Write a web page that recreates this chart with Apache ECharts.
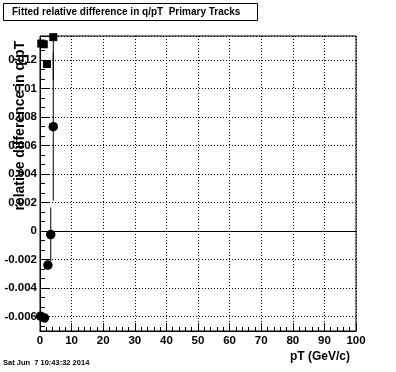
<!DOCTYPE html>
<html><head><meta charset="utf-8">
<script src="https://cdn.jsdelivr.net/npm/echarts@6/dist/echarts.min.js"></script>
<style>html,body{margin:0;padding:0;background:#fff}#c{width:396px;height:372px}</style>
</head><body><div id="c"></div>
<script>
// Data
const squareX = [0.4, 1.2, 2.2, 4.2];
const squareY = [0.01315, 0.0131, 0.01172, 0.0136];
const squareErr = [0, 0, 0, 0.003];
const circleX = [0.2, 1.4, 2.5, 3.4, 4.2];
const circleY = [-0.00598, -0.0061, -0.00239, -0.00025, 0.00732];
const circleErr = [0, 0, 0, 0.0019, 0.0052];
const xTicks = [0, 10, 20, 30, 40, 50, 60, 70, 80, 90, 100];
const titleText = 'Fitted relative difference in q/pT  Primary Tracks';
const yTitle = 'relative difference in q/pT';
const xTitle = 'pT (GeV/c)';
const dateText = 'Sat Jun  7 10:43:32 2014';

const F = '"Liberation Sans", Helvetica, Arial, sans-serif';
const sq = squareX.map((x, i) => [x, squareY[i], squareErr[i]]);
const ci = circleX.map((x, i) => [x, circleY[i], circleErr[i]]);
const errAll = sq.concat(ci).filter(d => d[2] > 0);

function errItem(params, api) {
  const x = api.value(0), y = api.value(1), e = api.value(2);
  const p1 = api.coord([x, y - e]), p2 = api.coord([x, y + e]);
  return {type: 'line', shape: {x1: p1[0], y1: p1[1], x2: p2[0], y2: p2[1]},
          style: {stroke: '#000', lineWidth: 1}};
}

const chart = echarts.init(document.getElementById('c'), null, {renderer: 'canvas'});
chart.setOption({
  animation: false,
  backgroundColor: '#fff',
  title: [{
    text: titleText, left: 3, top: 3,
    padding: [4, 17, 4, 9], borderColor: '#000', borderWidth: 1,
    textStyle: {fontFamily: F, fontSize: 10, fontWeight: 'bold', color: '#000'}
  }, {
    text: dateText, left: 3, top: 359, padding: 0,
    textStyle: {fontFamily: F, fontSize: 7.5, fontWeight: 'bold', color: '#000'}
  }],
  graphic: [{
    type: 'text', x: 20, y: 41, rotation: Math.PI / 2,
    style: {text: yTitle, fontFamily: F, fontSize: 14, fontWeight: 'bold', fill: '#000',
            align: 'right', verticalAlign: 'middle'}
  }],
  grid: {left: 40, right: 40, top: 36, bottom: 41, show: true, borderColor: '#000', borderWidth: 1, backgroundColor: 'transparent'},
  xAxis: {
    type: 'value', min: 0, max: 100, interval: 10,
    name: xTitle, nameLocation: 'end', nameGap: 0,
    nameTextStyle: {fontFamily: F, fontSize: 12, fontWeight: 'bold', color: '#000', align: 'right', verticalAlign: 'top', padding: [20, 6, 0, 0]},
    axisLine: {show: true, onZero: false, lineStyle: {color: '#000', width: 1}},
    axisTick: {show: true, inside: true, length: 8, lineStyle: {color: '#000'}},
    minorTick: {show: true, splitNumber: 5, length: 4, lineStyle: {color: '#000'}},
    axisLabel: {fontFamily: F, fontSize: 11.5, fontWeight: 'bold', color: '#000', margin: 4,
                formatter: v => xTicks.includes(v) ? String(v) : ''},
    splitLine: {show: true, lineStyle: {color: '#000', type: [1, 2], width: 1}}
  },
  yAxis: {
    type: 'value', min: -0.00702, max: 0.01368, splitNumber: 10,
    axisLine: {show: true, onZero: false, lineStyle: {color: '#000', width: 1}},
    axisTick: {show: true, inside: true, length: 9, lineStyle: {color: '#000'}},
    minorTick: {show: true, splitNumber: 3, length: 5, lineStyle: {color: '#000'}},
    axisLabel: {fontFamily: F, fontSize: 11.5, fontWeight: 'bold', color: '#000', margin: 3,
                showMinLabel: false, showMaxLabel: false},
    splitLine: {show: true, lineStyle: {color: '#000', type: [1, 2], width: 1}}
  },
  series: [{
    type: 'custom', renderItem: errItem, data: errAll, clip: true, z: 2,
    encode: {x: 0, y: 1}
  }, {
    type: 'scatter', data: sq, symbol: 'rect', symbolSize: 8, clip: true, z: 3,
    itemStyle: {color: '#000', opacity: 1},
    markLine: {silent: true, symbol: 'none', label: {show: false},
               lineStyle: {color: '#000', type: 'solid', width: 1, opacity: 1},
               data: [{yAxis: 0}]}
  }, {
    type: 'scatter', data: ci, symbol: 'circle', symbolSize: 9.5, clip: true, z: 3,
    itemStyle: {color: '#000', opacity: 1}
  }]
});
</script></body></html>
